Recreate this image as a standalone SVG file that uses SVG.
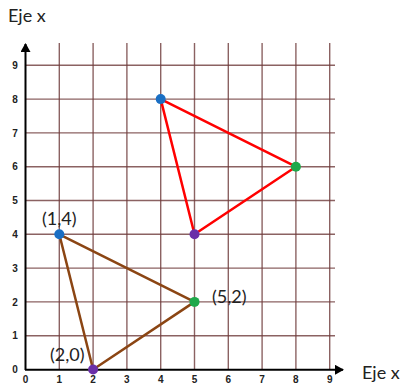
<svg xmlns="http://www.w3.org/2000/svg" width="402" height="383" viewBox="0 0 402 383">
<style>
.grid line{stroke:#6e3b3b;stroke-width:1.4;stroke-opacity:0.8}
.tick{font-family:"Liberation Sans",Arial,sans-serif;font-size:10px;font-weight:bold;fill:#222;text-anchor:middle}
.lbl{font-family:Lato,"Liberation Sans",sans-serif;font-size:18px;fill:#222}
.axis{stroke:#000;stroke-width:2}
.brown{stroke:#8b4513;stroke-width:2.5;fill:none;stroke-linejoin:round}
.red{stroke:#ff0000;stroke-width:2.5;fill:none;stroke-linejoin:round}
</style>
<defs>
<marker id="arr" markerWidth="10" markerHeight="10" refX="8" refY="5" orient="auto" markerUnits="userSpaceOnUse">
<path d="M0,0 L9,5 L0,10 Z" fill="#000"/>
</marker>
</defs>
<rect width="402" height="383" fill="#fff"/>
<g id="grid" class="grid">
<line x1="59.3" y1="43" x2="59.3" y2="369.5"/>
<line x1="93.1" y1="43" x2="93.1" y2="369.5"/>
<line x1="126.9" y1="43" x2="126.9" y2="369.5"/>
<line x1="160.7" y1="43" x2="160.7" y2="369.5"/>
<line x1="194.5" y1="43" x2="194.5" y2="369.5"/>
<line x1="228.3" y1="43" x2="228.3" y2="369.5"/>
<line x1="262.1" y1="43" x2="262.1" y2="369.5"/>
<line x1="295.9" y1="43" x2="295.9" y2="369.5"/>
<line x1="329.7" y1="43" x2="329.7" y2="369.5"/>
<line x1="25.5" y1="335.7" x2="335" y2="335.7"/>
<line x1="25.5" y1="301.9" x2="335" y2="301.9"/>
<line x1="25.5" y1="268.1" x2="335" y2="268.1"/>
<line x1="25.5" y1="234.3" x2="335" y2="234.3"/>
<line x1="25.5" y1="200.5" x2="335" y2="200.5"/>
<line x1="25.5" y1="166.7" x2="335" y2="166.7"/>
<line x1="25.5" y1="132.9" x2="335" y2="132.9"/>
<line x1="25.5" y1="99.1" x2="335" y2="99.1"/>
<line x1="25.5" y1="65.3" x2="335" y2="65.3"/>
</g>
<g id="axes">
<line class="axis" x1="25.5" y1="370" x2="25.5" y2="44" marker-end="url(#arr)"/>
<line class="axis" x1="25" y1="369.8" x2="343" y2="369.8" marker-end="url(#arr)"/>
</g>
<g id="ticks">
<text class="tick" x="15" y="69">9</text>
<text class="tick" x="15" y="102.8">8</text>
<text class="tick" x="15" y="136.6">7</text>
<text class="tick" x="15" y="170.4">6</text>
<text class="tick" x="15" y="204.2">5</text>
<text class="tick" x="15" y="238">4</text>
<text class="tick" x="15" y="271.8">3</text>
<text class="tick" x="15" y="305.6">2</text>
<text class="tick" x="15" y="339.4">1</text>
<text class="tick" x="15" y="373.2">0</text>
<text class="tick" x="25.5" y="382.5">0</text>
<text class="tick" x="59.3" y="382.5">1</text>
<text class="tick" x="93.1" y="382.5">2</text>
<text class="tick" x="126.9" y="382.5">3</text>
<text class="tick" x="160.7" y="382.5">4</text>
<text class="tick" x="194.5" y="382.5">5</text>
<text class="tick" x="228.3" y="382.5">6</text>
<text class="tick" x="262.1" y="382.5">7</text>
<text class="tick" x="295.9" y="382.5">8</text>
<text class="tick" x="329.7" y="382.5">9</text>
</g>
<g id="connectors">
<polygon class="brown" points="59.3,234.3 194.5,301.9 93.1,369.5"/>
<polygon class="red" points="160.7,99.1 295.9,166.7 194.5,234.3"/>
</g>
<g id="points">
<circle cx="59.3" cy="234.3" r="5" fill="#1a6fc4"/>
<circle cx="160.7" cy="99.1" r="5" fill="#1a6fc4"/>
<circle cx="194.5" cy="301.9" r="5" fill="#1fa84a"/>
<circle cx="295.9" cy="166.7" r="5" fill="#1fa84a"/>
<circle cx="93.1" cy="369.5" r="5" fill="#6a2fa8"/>
<circle cx="194.5" cy="234.3" r="5" fill="#6a2fa8"/>
</g>
<g id="labels">
<text class="lbl" x="8" y="22">Eje x</text>
<text class="lbl" x="362" y="379">Eje x</text>
<text class="lbl" x="42" y="225">(1,4)</text>
<text class="lbl" x="212" y="303">(5,2)</text>
<text class="lbl" x="50" y="361">(2,0)</text>
</g>
</svg>
